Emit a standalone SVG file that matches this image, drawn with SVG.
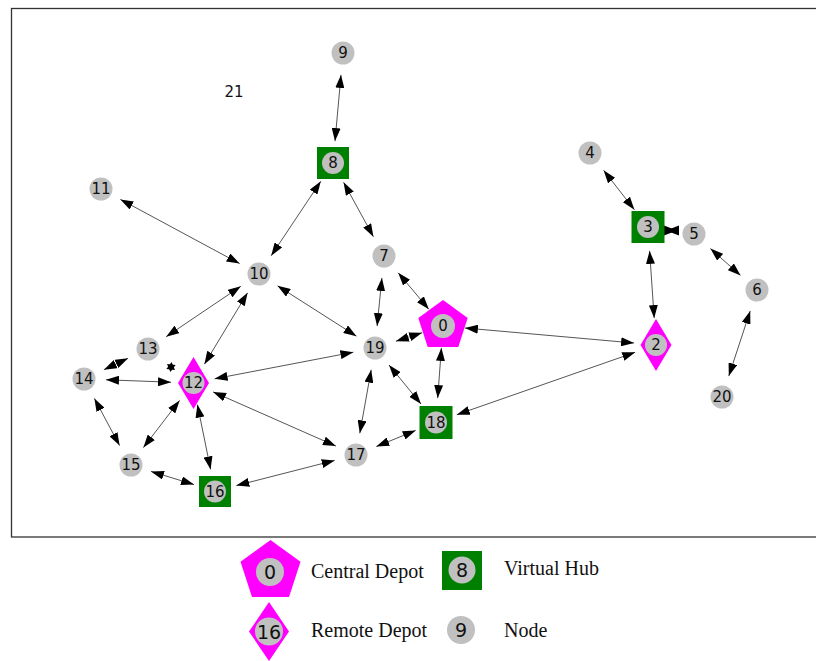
<svg xmlns="http://www.w3.org/2000/svg" width="816" height="661" viewBox="0 0 816 661">
  <style>
    .edge { stroke: #555; stroke-width: 1; fill: none; marker-start: url(#ah); marker-end: url(#ah); }
    .dot { fill: #c0c0c0; }
    .depot { fill: #ff00ff; }
    .hub { fill: #008000; }
    .lbl { font-family: "DejaVu Sans", sans-serif; font-size: 15px; fill: #111; text-anchor: middle; dominant-baseline: central; }
    .lbl-big { font-family: "DejaVu Sans", sans-serif; font-size: 19px; fill: #111; text-anchor: middle; dominant-baseline: central; }
    .legend-text { font-family: "Liberation Serif", serif; font-size: 20px; fill: #111; }
    .head { fill: #000; }
  </style>
  <defs>
    <marker id="ah" viewBox="0 0 13 9" refX="13" refY="4.5" markerWidth="13" markerHeight="9" markerUnits="userSpaceOnUse" orient="auto-start-reverse">
      <path d="M0,0 L13,4.5 L0,9 z" fill="#000"/>
    </marker>
  </defs>

  <rect x="0" y="0" width="816" height="661" fill="#fff"/>
  <!-- plot frame -->
  <rect x="11.5" y="8.5" width="820" height="528.5" fill="none" stroke="#333" stroke-width="1.3"/>

  <!-- connectors -->
  <g id="edges">
    <line class="edge" x1="341.0" y1="74.9" x2="335.0" y2="141.1"/>
    <line class="edge" x1="320.8" y1="181.3" x2="271.2" y2="255.7"/>
    <line class="edge" x1="343.6" y1="182.3" x2="373.4" y2="236.7"/>
    <line class="edge" x1="120.4" y1="199.4" x2="239.6" y2="263.6"/>
    <line class="edge" x1="240.8" y1="286.3" x2="166.2" y2="336.7"/>
    <line class="edge" x1="247.6" y1="292.8" x2="204.4" y2="364.2"/>
    <line class="edge" x1="277.5" y1="285.8" x2="356.5" y2="336.2"/>
    <line class="edge" x1="381.9" y1="277.9" x2="377.1" y2="326.1"/>
    <line class="edge" x1="398.2" y1="272.8" x2="428.8" y2="309.2"/>
    <line class="edge" x1="422.1" y1="332.8" x2="395.9" y2="341.2"/>
    <line class="edge" x1="464.9" y1="328.0" x2="634.1" y2="343.0"/>
    <line class="edge" x1="441.4" y1="347.9" x2="437.7" y2="398.1"/>
    <line class="edge" x1="353.4" y1="352.2" x2="214.6" y2="378.8"/>
    <line class="edge" x1="389.0" y1="365.0" x2="421.0" y2="404.0"/>
    <line class="edge" x1="371.2" y1="369.7" x2="359.8" y2="433.3"/>
    <line class="edge" x1="415.7" y1="430.4" x2="376.3" y2="446.6"/>
    <line class="edge" x1="456.8" y1="414.7" x2="635.2" y2="352.3"/>
    <line class="edge" x1="171.0" y1="382.2" x2="106.0" y2="379.8"/>
    <line class="edge" x1="128.1" y1="358.3" x2="103.9" y2="369.7"/>
    <line class="edge" x1="94.4" y1="398.4" x2="119.6" y2="445.6"/>
    <line class="edge" x1="143.4" y1="447.6" x2="179.6" y2="400.4"/>
    <line class="edge" x1="151.0" y1="471.4" x2="194.0" y2="484.6"/>
    <line class="edge" x1="197.4" y1="404.6" x2="210.6" y2="469.4"/>
    <line class="edge" x1="213.1" y1="391.9" x2="335.9" y2="446.1"/>
    <line class="edge" x1="334.7" y1="460.4" x2="236.3" y2="485.6"/>
    <line class="edge" x1="603.6" y1="170.3" x2="634.4" y2="209.7"/>
    <line class="edge" x1="649.6" y1="250.9" x2="654.2" y2="318.1"/>
    <line class="edge" x1="710.4" y1="248.6" x2="740.6" y2="275.4"/>
    <line class="edge" x1="750.2" y1="310.9" x2="728.8" y2="376.1"/>
    <!-- 13-12: the two heads overlap into a small star -->
    <path class="head" d="M175.0,370.0 L166.4,368.9 L171.6,362.1 z"/>
    <path class="head" d="M167.0,364.0 L170.4,371.9 L175.6,365.1 z"/>
    <!-- 3-5: the two heads overlap into a bow tie -->
    <path class="head" d="M664,225.5 L677,230.5 L664,235.5 z"/>
    <path class="head" d="M679,225.5 L666,230.5 L679,235.5 z"/>
  </g>

  <!-- nodes -->
  <g id="node-0">
    <polygon class="depot" points="443,300 467.7,318 458.3,347 427.7,347 418.3,318"/>
    <circle class="dot" cx="443" cy="326" r="12"/>
    <text class="lbl" x="443" y="326">0</text>
  </g>
  <g id="node-2">
    <polygon class="depot" points="656,319 671.5,345 656,371 640.5,345"/>
    <circle class="dot" cx="656" cy="345" r="11"/>
    <text class="lbl" x="656" y="345">2</text>
  </g>
  <g id="node-3">
    <rect class="hub" x="631.5" y="211" width="33" height="32"/>
    <circle class="dot" cx="648" cy="227" r="11"/>
    <text class="lbl" x="648" y="227">3</text>
  </g>
  <g id="node-4">
    <circle class="dot" cx="590" cy="153" r="11.5"/>
    <text class="lbl" x="590" y="153">4</text>
  </g>
  <g id="node-5">
    <circle class="dot" cx="694" cy="234" r="11.5"/>
    <text class="lbl" x="694" y="234">5</text>
  </g>
  <g id="node-6">
    <circle class="dot" cx="757" cy="290" r="11.5"/>
    <text class="lbl" x="757" y="290">6</text>
  </g>
  <g id="node-7">
    <circle class="dot" cx="384" cy="256" r="11.5"/>
    <text class="lbl" x="384" y="256">7</text>
  </g>
  <g id="node-8">
    <rect class="hub" x="317" y="147" width="32" height="32"/>
    <circle class="dot" cx="333" cy="163" r="11"/>
    <text class="lbl" x="333" y="163">8</text>
  </g>
  <g id="node-9">
    <circle class="dot" cx="343" cy="53" r="11.5"/>
    <text class="lbl" x="343" y="53">9</text>
  </g>
  <g id="node-10">
    <circle class="dot" cx="259" cy="274" r="11.5"/>
    <text class="lbl" x="259" y="274">10</text>
  </g>
  <g id="node-11">
    <circle class="dot" cx="101" cy="189" r="11.5"/>
    <text class="lbl" x="101" y="189">11</text>
  </g>
  <g id="node-12">
    <polygon class="depot" points="193.5,357 209,383 193.5,409 178,383"/>
    <circle class="dot" cx="193.5" cy="383" r="11"/>
    <text class="lbl" x="193.5" y="383">12</text>
  </g>
  <g id="node-13">
    <circle class="dot" cx="148" cy="349" r="11.5"/>
    <text class="lbl" x="148" y="349">13</text>
  </g>
  <g id="node-14">
    <circle class="dot" cx="84" cy="379" r="11.5"/>
    <text class="lbl" x="84" y="379">14</text>
  </g>
  <g id="node-15">
    <circle class="dot" cx="131" cy="465" r="11.5"/>
    <text class="lbl" x="131" y="465">15</text>
  </g>
  <g id="node-16">
    <rect class="hub" x="199" y="476" width="32" height="31"/>
    <circle class="dot" cx="215" cy="491.5" r="11"/>
    <text class="lbl" x="215" y="491.5">16</text>
  </g>
  <g id="node-17">
    <circle class="dot" cx="356" cy="455" r="11.5"/>
    <text class="lbl" x="356" y="455">17</text>
  </g>
  <g id="node-18">
    <rect class="hub" x="419.5" y="406" width="33" height="33"/>
    <circle class="dot" cx="436" cy="422.5" r="11"/>
    <text class="lbl" x="436" y="422.5">18</text>
  </g>
  <g id="node-19">
    <circle class="dot" cx="375" cy="348" r="11.5"/>
    <text class="lbl" x="375" y="348">19</text>
  </g>
  <g id="node-20">
    <circle class="dot" cx="722" cy="397" r="11.5"/>
    <text class="lbl" x="722" y="397">20</text>
  </g>
  <g id="node-21">
    <text class="lbl" x="234" y="92">21</text>
  </g>

  <!-- legend -->
  <g id="legend">
    <g id="legend-central">
      <polygon class="depot" points="270.5,540 300.5,561.8 289,597 252,597 240.5,561.8"/>
      <circle class="dot" cx="270" cy="572" r="14"/>
      <text class="lbl-big" x="270" y="572">0</text>
      <text class="legend-text" x="311" y="578">Central Depot</text>
    </g>
    <g id="legend-hub">
      <rect class="hub" x="442" y="551" width="40" height="39"/>
      <circle class="dot" cx="462" cy="570" r="13.5"/>
      <text class="lbl-big" x="462" y="570">8</text>
      <text class="legend-text" x="504" y="575">Virtual Hub</text>
    </g>
    <g id="legend-remote">
      <polygon class="depot" points="269,602 289,631.5 269,661 249,631.5"/>
      <circle class="dot" cx="269" cy="631.5" r="14"/>
      <text class="lbl-big" x="269" y="631.5">16</text>
      <text class="legend-text" x="311" y="637">Remote Depot</text>
    </g>
    <g id="legend-node">
      <circle class="dot" cx="461" cy="630" r="14"/>
      <text class="lbl-big" x="461" y="630">9</text>
      <text class="legend-text" x="504" y="637">Node</text>
    </g>
  </g>
</svg>
